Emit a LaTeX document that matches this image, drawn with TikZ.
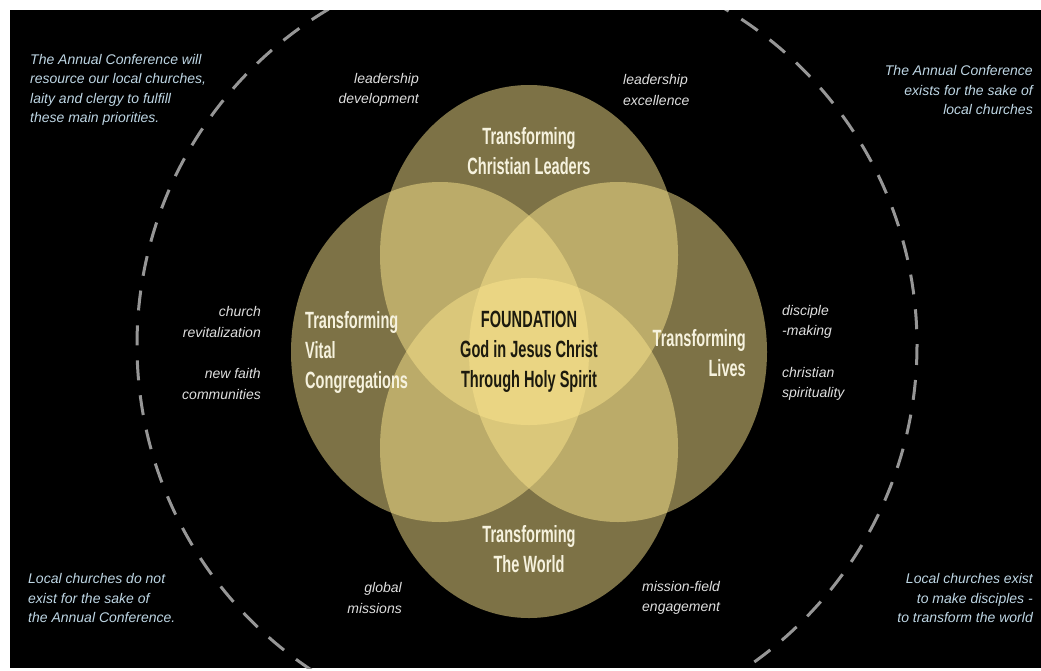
\documentclass[tikz,border=0pt]{standalone}
\usepackage{fontspec}
\usetikzlibrary{shapes.geometric}
\setmainfont{Liberation Sans}
\newfontfamily\dinb{Liberation Sans}[FakeStretch=0.62]
\definecolor{petalcol}{RGB}{250,228,140}
\definecolor{cornercol}{RGB}{190,214,228}
\definecolor{labcol}{RGB}{222,222,222}
\definecolor{headcol}{RGB}{246,242,222}
\definecolor{darktext}{RGB}{28,26,14}
\definecolor{dashcol}{RGB}{150,150,150}
\tikzset{
  petal/.style={ellipse, fill=petalcol, fill opacity=0.5, draw=none, inner sep=0pt, minimum width=298pt, minimum height=340pt},
  head/.style={inner sep=0pt, text=headcol, font=\dinb\bfseries\fontsize{23.5}{30}\selectfont},
  found/.style={head, text=darktext},
  lab/.style={inner sep=0pt, text=labcol, font=\itshape\fontsize{14}{20.5}\selectfont},
  corner/.style={inner sep=0pt, text=cornercol, font=\itshape\fontsize{14}{19.5}\selectfont},
  dashring/.style={draw=dashcol, line width=3pt, dash pattern=on 20pt off 15pt}
}
\begin{document}
\begin{tikzpicture}[x=1pt,y=-1pt]
\fill[white] (0,0) rectangle (1041,670);
\fill[black] (10,10) rectangle (1041,668);
\begin{scope}
\clip (10,10) rectangle (1041,668);
\draw[dashring] (527,345) circle [radius=390];
\end{scope}
% petals
\node[petal] (top) at (529,255) {};
\node[petal] (left) at (440,352) {};
\node[petal] (right) at (618,352) {};
\node[petal] (bottom) at (529,448) {};
% headings
\node[head, align=center] (lead) at (529,151) {Transforming\\Christian Leaders};
\node[head, align=left, anchor=west] (vital) at (305,352) {Transforming\\Vital\\Congregations};
\node[head, align=right, anchor=east] (lives) at (746,353) {Transforming\\Lives};
\node[found, align=center] (found) at (529,352) {FOUNDATION\\God in Jesus Christ\\Through Holy Spirit};
\node[head, align=center] (world) at (529,549) {Transforming\\The World};
% italic labels
\node[lab, align=right, anchor=east] (ld) at (419,90) {leadership\\development};
\node[lab, align=left, anchor=west] (le) at (623,90) {leadership\\excellence};
\node[lab, align=right, anchor=east] (cr) at (261,322) {church\\revitalization};
\node[lab, align=right, anchor=east] (nf) at (261,384) {new faith\\communities};
\node[lab, align=left, anchor=west] (dm) at (782,322) {disciple\\-making};
\node[lab, align=left, anchor=west] (cs) at (782,384) {christian\\spirituality};
\node[lab, align=right, anchor=east] (gm) at (402,598) {global\\missions};
\node[lab, align=left, anchor=west] (mf) at (642,598) {mission-field\\engagement};
% corner texts
\node[corner, align=left, anchor=west] (tl) at (30,90) {The Annual Conference will\\resource our local churches,\\laity and clergy to fulfill\\these main priorities.};
\node[corner, align=right, anchor=east] (tr) at (1033,90) {The Annual Conference\\exists for the sake of\\local churches};
\node[corner, align=left, anchor=west] (bl) at (28,598) {Local churches do not\\exist for the sake of\\the Annual Conference.};
\node[corner, align=right, anchor=east] (br) at (1033,598) {Local churches exist\\to make disciples -\\to transform the world};
\end{tikzpicture}
\end{document}
